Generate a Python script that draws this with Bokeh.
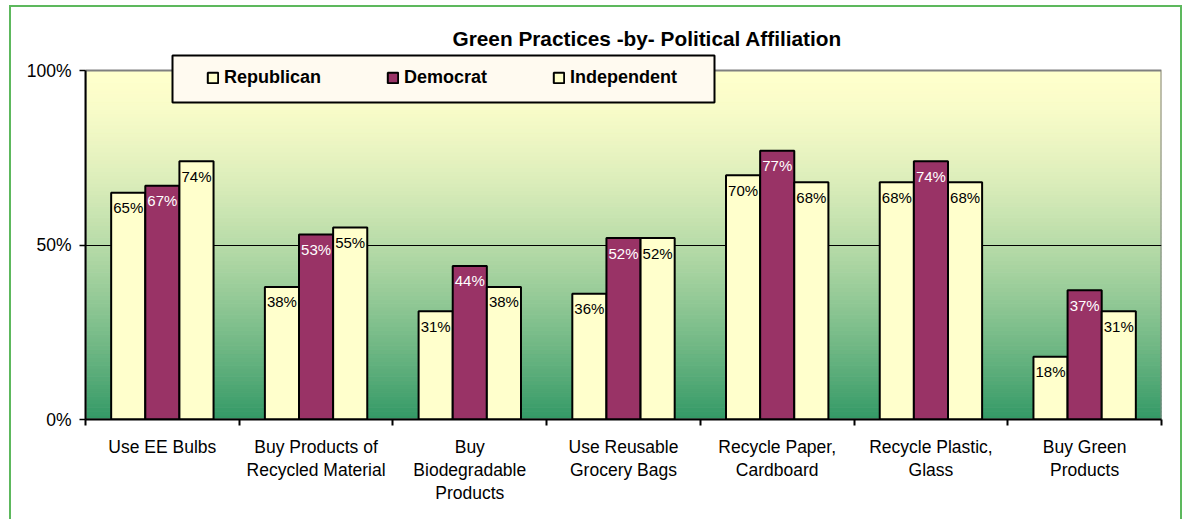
import numpy as np
from bokeh.plotting import figure
from bokeh.models import (Range1d, FixedTicker, PrintfTickFormatter, Legend, LegendItem,
                          BoxAnnotation, ColumnDataSource)
from bokeh.transform import dodge
from bokeh.core.properties import value
from bokeh.embed import file_html
from bokeh.resources import INLINE

# --- data -------------------------------------------------------------------
practices = [
    "Use EE Bulbs",
    "Buy Products of\nRecycled Material",
    "Buy\nBiodegradable\nProducts",
    "Use Reusable\nGrocery Bags",
    "Recycle Paper,\nCardboard",
    "Recycle Plastic,\nGlass",
    "Buy Green\nProducts",
]
republican = [65, 38, 31, 36, 70, 68, 18]
democrat = [67, 53, 44, 52, 77, 74, 37]
independent = [74, 55, 38, 52, 68, 68, 31]
y_ticks = [0, 50, 100]
series_names = ["Republican", "Democrat", "Independent"]

FONT = "Liberation Sans"
PALE = "#FFFFCC"
PLUM = "#993366"

src = ColumnDataSource(dict(
    x=list(range(len(practices))),
    rep=republican, dem=democrat, ind=independent,
    rep_lbl=[f"{v}%" for v in republican],
    dem_lbl=[f"{v}%" for v in democrat],
    ind_lbl=[f"{v}%" for v in independent],
))

# frame: 367 px tall, of which the top 18 px sit above the 100% line (room for the legend)
y_top = 100 * 367 / 349
x_lo, x_hi = -0.5, len(practices) - 0.5

p = figure(width=1169, height=512, margin=(7, 0, 0, 11),
           x_range=Range1d(x_lo, x_hi), y_range=Range1d(0, y_top),
           output_backend="svg", toolbar_location=None,
           min_border_left=74, min_border_right=19, min_border_top=45, min_border_bottom=100,
           background_fill_color="white", border_fill_color="white",
           outline_line_color=None,
           styles={"outline": "2px solid #5DB85D"})

# --- vertical pale-yellow to green backdrop of the plot area ----------------
top_rgb = np.array([255, 255, 204])
bot_rgb = np.array([51, 153, 102])
n_strips = 90
edges = np.linspace(0, 100, n_strips + 1)
cols = []
for k in range(n_strips):
    t = 1 - (edges[k] + edges[k + 1]) / 200.0   # 0 at top, 1 at bottom
    c = top_rgb + (bot_rgb - top_rgb) * t ** 1.5
    cols.append("#%02x%02x%02x" % tuple(int(round(v)) for v in c))
p.quad(left=x_lo, right=x_hi, bottom=edges[:-1], top=edges[1:],
       fill_color=cols, line_color=cols, line_width=1, level="image")
# grey plot-area border
p.quad(left=x_lo, right=x_hi, bottom=0, top=100, fill_color=None,
       line_color="#808080", line_width=2, level="underlay")

# --- bars -------------------------------------------------------------------
w = 0.222
offsets = [-w, 0, w]
fields = ["rep", "dem", "ind"]
fills = [PALE, PLUM, PALE]
label_cols = ["black", "white", "black"]
renderers = []
for off, fld, fc, lc in zip(offsets, fields, fills, label_cols):
    r = p.vbar(x=dodge("x", off, range=p.x_range), top=fld, width=w, source=src,
               fill_color=fc, line_color="black", line_width=2)
    renderers.append(r)
    p.text(x=dodge("x", off, range=p.x_range), y=fld, text=fld + "_lbl", source=src,
           text_font=value(FONT), text_font_size="15px", text_color=lc,
           text_align="center", text_baseline="middle", y_offset=15)

# --- axes -------------------------------------------------------------------
xa = p.xaxis[0]
xa.ticker = FixedTicker(ticks=list(range(len(practices))),
                        minor_ticks=[i - 0.5 for i in range(len(practices) + 1)])
xa.major_label_overrides = {i: lab for i, lab in enumerate(practices)}
xa.major_tick_line_color = None
xa.minor_tick_in = 0
xa.minor_tick_out = 6
xa.minor_tick_line_color = "black"
xa.minor_tick_line_width = 2
xa.axis_line_color = "black"
xa.axis_line_width = 2
xa.major_label_text_font = FONT
xa.major_label_text_font_size = "17.5px"
xa.major_label_text_color = "black"
xa.major_label_text_line_height = 1.17
xa.major_label_standoff = 11

ya = p.yaxis[0]
ya.ticker = FixedTicker(ticks=y_ticks)
ya.formatter = PrintfTickFormatter(format="%d%%")
ya.bounds = (0, 100)
ya.major_tick_in = 0
ya.major_tick_out = 6
ya.major_tick_line_color = "black"
ya.major_tick_line_width = 1.5
ya.axis_line_color = "black"
ya.axis_line_width = 2
ya.major_label_text_font = FONT
ya.major_label_text_font_size = "17.5px"
ya.major_label_text_color = "black"
ya.major_label_standoff = 8

p.xgrid.visible = False
p.ygrid.ticker = FixedTicker(ticks=[50])
p.ygrid.grid_line_color = "black"
p.ygrid.grid_line_width = 1

# --- title ------------------------------------------------------------------
p.title.text = "Green Practices -by- Political Affiliation"
p.title.align = "left"
p.title.offset = 367
p.title.text_font = FONT
p.title.text_font_size = "20.8px"
p.title.text_font_style = "bold"
p.title.text_color = "black"
p.title.standoff = 5

# --- legend -----------------------------------------------------------------
p.add_layout(BoxAnnotation(left=161, right=703, top=48, bottom=95,
                           left_units="canvas", right_units="canvas",
                           top_units="canvas", bottom_units="canvas",
                           fill_color="#FFFAF0", fill_alpha=1,
                           line_color="black", line_alpha=1, line_width=2))

legend = Legend(items=[LegendItem(label=n, renderers=[r]) for n, r in zip(series_names, renderers)],
                orientation="horizontal", location=(121, 331),
                glyph_width=13, glyph_height=13, label_standoff=5, spacing=65,
                padding=0, margin=0, background_fill_alpha=0, border_line_color=None,
                label_text_font=FONT, label_text_font_style="bold", label_text_color="black",
                label_text_font_size="18px", label_height=13)
p.add_layout(legend)

open("out.html", "w").write(file_html(p, INLINE))
